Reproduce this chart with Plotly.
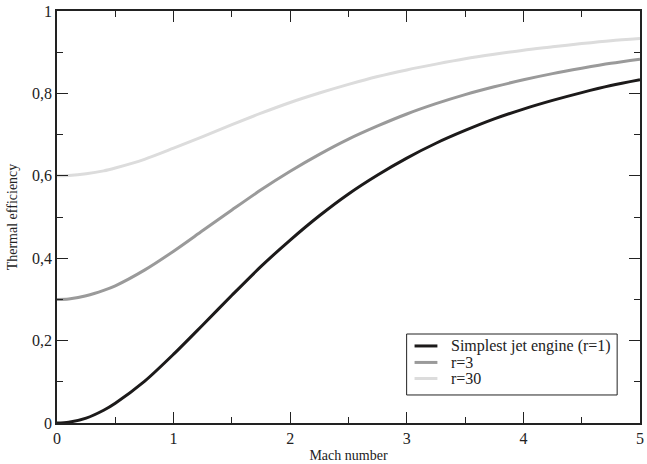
import plotly.graph_objects as go

mach = [0, 0.1, 0.25, 0.4, 0.5, 0.75, 1, 1.25, 1.5, 1.75, 2, 2.25, 2.5, 2.75, 3,
        3.25, 3.5, 3.75, 4, 4.25, 4.5, 4.75, 5]
eff_r1 = [0.0, 0.002, 0.012, 0.031, 0.048, 0.101, 0.167, 0.238, 0.310, 0.380, 0.444, 0.503,
          0.556, 0.602, 0.643, 0.679, 0.710, 0.738, 0.762, 0.783, 0.802, 0.819, 0.833]
eff_r3 = [0.300, 0.301, 0.309, 0.322, 0.333, 0.371, 0.417, 0.467, 0.517, 0.566, 0.611, 0.652,
          0.689, 0.721, 0.750, 0.775, 0.797, 0.816, 0.833, 0.848, 0.861, 0.873, 0.883]
eff_r30 = [0.600, 0.601, 0.605, 0.612, 0.619, 0.640, 0.667, 0.695, 0.724, 0.752, 0.778, 0.801,
           0.822, 0.841, 0.857, 0.871, 0.884, 0.895, 0.905, 0.913, 0.921, 0.928, 0.933]
names = ["Simplest jet engine (r=1)", "r=3", "r=30"]
colors = ["#1c1a1a", "#9a9a9a", "#dcdcdc"]

FONT = "Liberation Serif, Times New Roman, DejaVu Serif, serif"

fig = go.Figure()
for y, n, c in zip([eff_r1, eff_r3, eff_r30], names, colors):
    fig.add_trace(go.Scatter(x=mach, y=y, name=n, mode="lines", showlegend=False,
                             line=dict(color=c, width=3, shape="spline", smoothing=0.8)))

# legend drawn as a boxed key in paper coordinates
box = dict(x0=0.5997, x1=0.9608, y0=0.068, y1=0.216)
key_x0, key_x1, text_x = 0.6133, 0.6525, 0.6729
row_y = [0.187, 0.147, 0.108]
fig.add_shape(type="rect", xref="paper", yref="paper", **box,
              line=dict(color="#222", width=1), fillcolor="white", layer="above")
for n, c, yy in zip(names, colors, row_y):
    fig.add_shape(type="line", xref="paper", yref="paper", x0=key_x0, x1=key_x1,
                  y0=yy, y1=yy, line=dict(color=c, width=3), layer="above")
    fig.add_annotation(xref="paper", yref="paper", x=text_x, y=yy, text=n,
                       showarrow=False, xanchor="left", yanchor="middle",
                       font=dict(family=FONT, size=16, color="#222"))

axis_common = dict(showline=True, linecolor="#222", linewidth=1.5, mirror="ticks",
                   ticks="inside", ticklen=11, tickwidth=1.2, tickcolor="#222",
                   showgrid=False, zeroline=False,
                   tickfont=dict(family=FONT, size=16, color="#222"))

fig.update_layout(
    width=647, height=464,
    margin=dict(l=57, r=3, t=11, b=41),
    paper_bgcolor="white", plot_bgcolor="white",
    font=dict(family=FONT, size=14, color="#222"),
    separators=",.",
    xaxis=dict(range=[0, 5], dtick=1, tick0=0,
               minor=dict(dtick=0.5, ticks="inside", ticklen=6, tickcolor="#222"),
               title=dict(text="Mach number", standoff=4, font=dict(family=FONT, size=14)),
               **axis_common),
    yaxis=dict(range=[0, 1], dtick=0.2, tick0=0, tickformat=".1~f",
               minor=dict(dtick=0.1, ticks="inside", ticklen=6, tickcolor="#222"),
               title=dict(text="Thermal efficiency", standoff=11, font=dict(family=FONT, size=14)),
               **axis_common),
    showlegend=False,
)
fig.write_html("out.html")
